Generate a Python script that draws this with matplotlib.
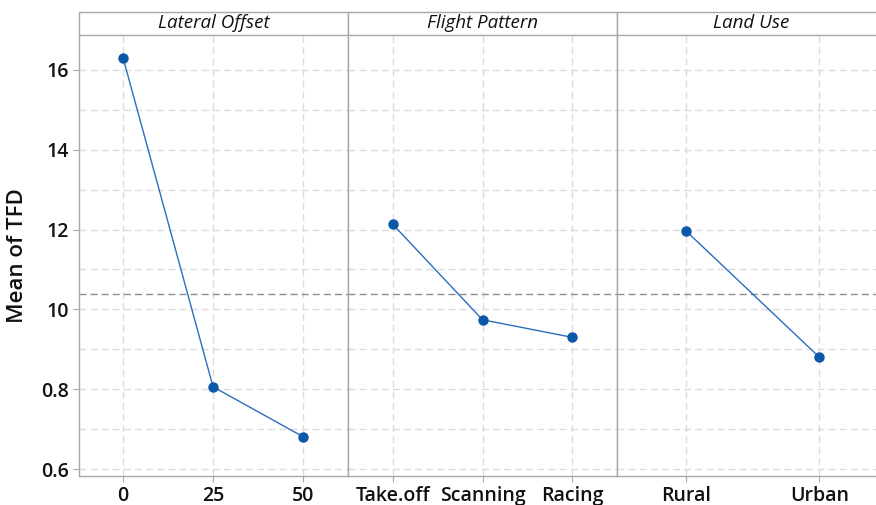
import matplotlib.pyplot as plt
from matplotlib.patches import Rectangle
import numpy as np

plt.rcParams['font.family'] = ['Open Sans', 'DejaVu Sans']

# main effects means of TFD for each factor level
lateral_levels = ["0", "25", "50"]
lateral_means = [1.630, 0.806, 0.681]
flight_levels = ["Take.off", "Scanning", "Racing"]
flight_means = [1.213, 0.974, 0.930]
land_levels = ["Rural", "Urban"]
land_means = [1.196, 0.880]

panel_titles = ["Lateral Offset", "Flight Pattern", "Land Use"]
ytick_values = [0.6, 0.8, 1.0, 1.2, 1.4, 1.6]
ytick_labels = ["0.6", "0.8", "10", "12", "14", "16"]

grand_mean = np.mean(lateral_means)

line_col = "#2a6ebf"
dot_col = "#0b57a8"
frame_col = "#a8a8a8"
grid_col = "#dcdcdc"
txt_col = "#111111"

W, H = 876, 505
fig = plt.figure(figsize=(W / 100, H / 100), dpi=100)

left_px, panel_w = 79, 269
top_px, bot_px, strip_top = 35, 476, 12

panels = [
    (lateral_levels, lateral_means, (-0.49, 2.5)),
    (flight_levels, flight_means, (-0.5, 2.5)),
    (land_levels, land_means, (-0.52, 1.5)),
]

for i, (levels, means, xl) in enumerate(panels):
    x0 = (left_px + i * panel_w) / W
    ax = fig.add_axes([x0, 1 - bot_px / H, panel_w / W, (bot_px - top_px) / H])
    xs = np.arange(len(levels))

    ax.set_xlim(*xl)
    ax.set_ylim(0.5825, 1.6875)
    ax.set_yticks(ytick_values)
    ax.set_yticks(np.arange(0.7, 1.65, 0.2), minor=True)
    ax.grid(True, which="both", axis="y", color=grid_col, linestyle=(0, (5, 3)), linewidth=1)
    ax.grid(True, which="major", axis="x", color=grid_col, linestyle=(0, (5, 3)), linewidth=1)
    ax.set_axisbelow(True)

    ax.axhline(grand_mean, color="#8c8c8c", linestyle=(0, (5, 3)), linewidth=1, zorder=1.5)
    ax.plot(xs, means, color=line_col, linewidth=1, zorder=3)
    ax.plot(xs, means, "o", color=dot_col, markersize=6.5, zorder=4)

    ax.set_xticks(xs)
    ax.set_xticklabels(levels, fontsize=14, fontweight=600, color=txt_col)
    ax.tick_params(axis="x", length=4, color=frame_col, pad=3)
    ax.tick_params(axis="y", which="minor", length=0)
    if i == 0:
        ax.set_yticklabels(ytick_labels, fontsize=14, fontweight=600, color=txt_col)
        ax.tick_params(axis="y", which="major", length=4, color=frame_col, pad=3)
        ax.set_ylabel("Mean of TFD", fontsize=16, fontweight=600, color=txt_col, labelpad=10)
    else:
        ax.tick_params(axis="y", which="major", length=0, labelleft=False)

    for s in ax.spines.values():
        s.set_color(frame_col)
        s.set_linewidth(1)
    ax.spines["top"].set_visible(False)

    # strip header above each panel
    strip = Rectangle((x0, 1 - top_px / H), panel_w / W, (top_px - strip_top) / H,
                      transform=fig.transFigure, facecolor="white",
                      edgecolor=frame_col, linewidth=1)
    fig.add_artist(strip)
    fig.text(x0 + panel_w / W / 2, 1 - (top_px + strip_top) / 2 / H, panel_titles[i],
             ha="center", va="center", fontsize=13.5, style="italic", color=txt_col)

fig.savefig("out.png", dpi=100)
